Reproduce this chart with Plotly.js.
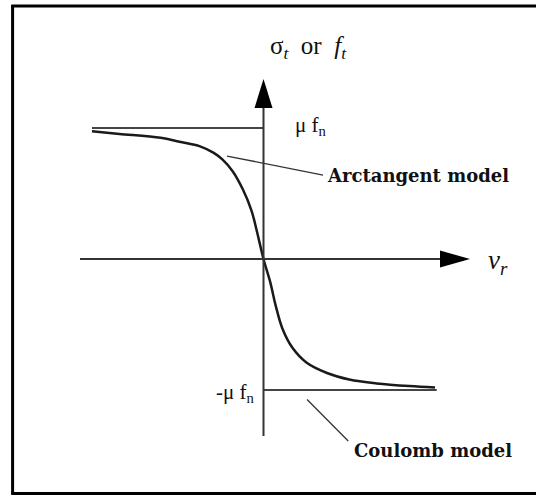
<!DOCTYPE html>
<html>
<head>
<meta charset="utf-8">
<script src="https://cdn.plot.ly/plotly-3.0.1.min.js"></script>
<style>
  html, body { margin: 0; padding: 0; background: #fff; }
  #friction-plot { width: 536px; height: 495px; }
</style>
</head>
<body>
<div id="friction-plot"></div>
<script>
// relative velocity v_r (normalised) and friction stress in units of mu*f_n
const arctanV = [-1.0, -0.84, -0.6, -0.49, -0.37, -0.29, -0.24, -0.18, -0.12, -0.07, -0.04, 0, 0.04, 0.07, 0.11, 0.17, 0.25, 0.37, 0.5, 0.66, 0.85, 1.0]
const arctanF = [0.975, 0.955, 0.925, 0.895, 0.86, 0.81, 0.76, 0.67, 0.53, 0.37, 0.22, 0, -0.18, -0.35, -0.53, -0.68, -0.79, -0.87, -0.92, -0.95, -0.97, -0.98]
const coulombV = [-1.0, 0, null, 0, 1.01]
const coulombF = [1, 1, null, -1, -1]

const serif = "'Liberation Serif', 'Times New Roman', serif"
const boldSerif = "'DejaVu Serif', serif"

var coulombTrace = {
  x: coulombV,
  y: coulombF,
  mode: 'lines',
  line: { color: '#444', width: 2 },
  hoverinfo: 'skip'
}

var arctanTrace = {
  x: arctanV,
  y: arctanF,
  mode: 'lines',
  line: { color: '#1a1a1a', width: 2.5, shape: 'spline', smoothing: 1 },
  hoverinfo: 'skip'
}

var data = [coulombTrace, arctanTrace]

var axisLine = { color: '#333', width: 2 }

var shapes = [
  // frame (open on the right, as in the original crop)
  { type: 'line', xref: 'paper', yref: 'paper', x0: 0.021, x1: 1, y0: 0.988, y1: 0.988, line: { color: '#000', width: 3 } },
  { type: 'line', xref: 'paper', yref: 'paper', x0: 0.0235, x1: 0.0235, y0: 0.0015, y1: 0.99, line: { color: '#000', width: 3 } },
  { type: 'line', xref: 'paper', yref: 'paper', x0: 0.021, x1: 1, y0: 0.003, y1: 0.003, line: { color: '#000', width: 3 } },
  // axes
  { type: 'line', x0: 0, x1: 0, y0: -1.351, y1: 1.16, line: axisLine },
  { type: 'line', x0: -1.07, x1: 1.04, y0: 0, y1: 0, line: axisLine },
  { type: 'path', path: 'M -0.0525,1.153 L 0.0525,1.153 L 0,1.374 Z', fillcolor: '#000', line: { width: 0 } },
  { type: 'path', path: 'M 1.029,0.065 L 1.029,-0.065 L 1.204,0 Z', fillcolor: '#000', line: { width: 0 } },
  // leader lines
  { type: 'line', x0: -0.213, x1: 0.347, y0: 0.786, y1: 0.641, line: { color: '#333', width: 1.3 } },
  { type: 'line', x0: 0.254, x1: 0.494, y0: -1.072, y1: -1.389, line: { color: '#333', width: 1.3 } }
]

var annotations = [
  { x: 0.26, y: 1.618, text: 'σ<sub><i>t</i></sub>&nbsp;&nbsp;or&nbsp;&nbsp;<i>f</i><sub><i>t</i></sub>', showarrow: false, xanchor: 'center', yanchor: 'middle', font: { family: serif, size: 25, color: '#111' } },
  { x: 0.172, y: 1.015, text: 'μ&nbsp;f<sub>n</sub>', showarrow: false, xanchor: 'left', yanchor: 'middle', font: { family: serif, size: 21, color: '#111' } },
  { x: -0.038, y: -1.023, text: '-μ&nbsp;f<sub>n</sub>', showarrow: false, xanchor: 'right', yanchor: 'middle', font: { family: serif, size: 21, color: '#111' } },
  { x: 1.3, y: -0.02, text: '<i>v</i><sub><i>r</i></sub>', showarrow: false, xanchor: 'left', yanchor: 'middle', font: { family: serif, size: 27, color: '#111' } },
  { x: 0.36, y: 0.634, text: '<b>Arctangent model</b>', showarrow: false, xanchor: 'left', yanchor: 'middle', font: { family: boldSerif, size: 18, color: '#111' } },
  { x: 0.516, y: -1.458, text: '<b>Coulomb model</b>', showarrow: false, xanchor: 'left', yanchor: 'middle', font: { family: boldSerif, size: 18, color: '#111' } }
]

var layout = {
  width: 536,
  height: 495,
  autosize: false,
  margin: { l: 0, r: 0, t: 0, b: 0 },
  showlegend: false,
  paper_bgcolor: '#fff',
  plot_bgcolor: '#fff',
  xaxis: { range: [-1.5364, 1.5889], visible: false, fixedrange: true },
  yaxis: { range: [-1.8015, 1.9771], visible: false, fixedrange: true },
  shapes: shapes,
  annotations: annotations
}

Plotly.newPlot('friction-plot', data, layout, { displayModeBar: false, staticPlot: true })
</script>
</body>
</html>
